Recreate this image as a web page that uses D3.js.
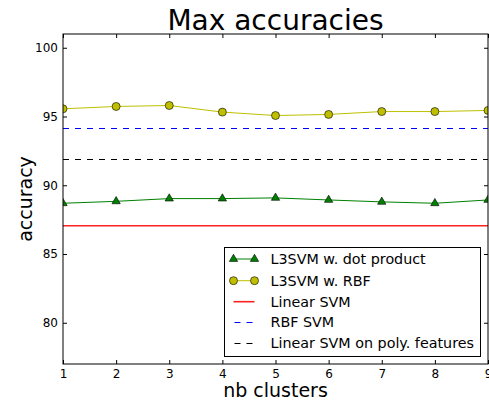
<!DOCTYPE html>
<html><head><meta charset="utf-8">
<script src="https://cdn.jsdelivr.net/npm/d3@7"></script>
<style>body{margin:0;background:#fff}svg{display:block;font-family:"DejaVu Sans",sans-serif}</style>
</head><body><svg id="c" width="489" height="404"></svg>
<script>
const clusters = [1,2,3,4,5,6,7,8,9];
const dotProduct = [88.69,88.83,89.03,89.03,89.08,88.93,88.79,88.69,88.93];
const rbf = [95.56,95.73,95.80,95.32,95.07,95.15,95.36,95.36,95.44];
const linearSVM = 87.06;
const rbfSVM = 94.12;
const polySVM = 91.84;
const yTicks = [80,85,90,95,100];
const legendLabels = ["L3SVM w. dot product","L3SVM w. RBF","Linear SVM","RBF SVM","Linear SVM on poly. features"];

const svg = d3.select("#c");
const L=63, R=488, T=34, B=364;
const x = d3.scaleLinear().domain([1,9]).range([L,R]);
const y = d3.scaleLinear().domain([77,101]).range([B,T]);
const snap = v => Math.round(v - 0.5) + 0.5;

svg.append("defs").append("clipPath").attr("id","clip").append("rect")
  .attr("x",L).attr("y",T).attr("width",R-L).attr("height",B-T);

const g = svg.append("g").attr("clip-path","url(#clip)");
const line = d3.line().x((d,i)=>x(clusters[i])).y(d=>y(d));

g.append("path").datum(dotProduct).attr("d",line).attr("fill","none").attr("stroke","#008000").attr("stroke-width",1);
g.append("path").datum(rbf).attr("d",line).attr("fill","none").attr("stroke","#bfbf00").attr("stroke-width",1);
g.append("line").attr("x1",L).attr("x2",R).attr("y1",y(linearSVM)).attr("y2",y(linearSVM)).attr("stroke","#ff2020").attr("stroke-width",1.6);
g.append("line").attr("x1",L).attr("x2",R).attr("y1",snap(y(rbfSVM))).attr("y2",snap(y(rbfSVM))).attr("stroke","#0000ff").attr("stroke-width",1.2).attr("stroke-dasharray","6,6");
g.append("line").attr("x1",L).attr("x2",R).attr("y1",snap(y(polySVM))).attr("y2",snap(y(polySVM))).attr("stroke","#000").attr("stroke-width",1).attr("stroke-dasharray","6,6");

const tri = d3.symbol().type(d3.symbolTriangle).size(30);
g.selectAll(".tri").data(dotProduct).join("path")
  .attr("transform",(d,i)=>`translate(${x(clusters[i])},${y(d)})`)
  .attr("d",tri).attr("fill","#008000").attr("stroke","#000").attr("stroke-width",0.6);
g.selectAll(".circ").data(rbf).join("circle")
  .attr("cx",(d,i)=>x(clusters[i])).attr("cy",d=>y(d)).attr("r",4)
  .attr("fill","#bfbf00").attr("stroke","#000").attr("stroke-width",0.6);

// axes
function style(sel){sel.select(".domain").remove();sel.selectAll("text").attr("font-size",12).attr("fill","#000").attr("font-family","DejaVu Sans");sel.selectAll("line").attr("stroke","#000");}
svg.append("g").attr("transform",`translate(0,${B})`).call(d3.axisBottom(x).tickValues(clusters).tickFormat(d3.format("d")).tickSize(-4).tickPadding(5)).call(style);
svg.append("g").attr("transform",`translate(0,${T})`).call(d3.axisTop(x).tickValues(clusters).tickFormat("").tickSize(-4)).call(style);
svg.append("g").attr("transform",`translate(${L},0)`).call(d3.axisLeft(y).tickValues(yTicks).tickFormat(d3.format("d")).tickSize(-4).tickPadding(5)).call(style);
svg.append("g").attr("transform",`translate(${R},0)`).call(d3.axisRight(y).tickValues(yTicks).tickFormat("").tickSize(-4)).call(style);
svg.append("rect").attr("x",L).attr("y",T).attr("width",R-L).attr("height",B-T).attr("fill","none").attr("stroke","#000").attr("stroke-width",1);

// titles
svg.append("text").attr("x",(L+R)/2).attr("y",30).attr("text-anchor","middle").attr("font-size",28).text("Max accuracies");
svg.append("text").attr("x",(L+R)/2).attr("y",397).attr("text-anchor","middle").attr("font-size",19).text("nb clusters");
svg.append("text").attr("transform",`translate(32,${(T+B)/2}) rotate(-90)`).attr("text-anchor","middle").attr("font-size",19).text("accuracy");

// legend
const lg = svg.append("g");
lg.append("rect").attr("x",224.5).attr("y",247.5).attr("width",256).attr("height",109).attr("fill","#fff").attr("stroke","#000").attr("stroke-width",1);
const rows = [259,280.7,301.7,322,343.3];
const hx1=233.5, hx2=254.5, tx=270.5;
legendLabels.forEach((lab,i)=>{
  const ry=rows[i];
  const colors=["#008000","#bfbf00","#ff2020","#0000ff","#000"];
  const ly = i>=3 ? snap(ry) : ry;
  const ln = lg.append("line").attr("x1",hx1).attr("x2",hx2).attr("y1",ly).attr("y2",ly).attr("stroke",colors[i]).attr("stroke-width",i===2?1.6:1);
  if(i>=3) ln.attr("stroke-dasharray","6,6").attr("x1",hx1+1);
  if(i===0){[hx1,hx2].forEach(px=>lg.append("path").attr("transform",`translate(${px},${ry})`).attr("d",tri).attr("fill","#008000").attr("stroke","#000").attr("stroke-width",0.6));}
  if(i===1){[hx1,hx2].forEach(px=>lg.append("circle").attr("cx",px).attr("cy",ry).attr("r",4).attr("fill","#bfbf00").attr("stroke","#000").attr("stroke-width",0.6));}
  lg.append("text").attr("x",tx).attr("y",ry).attr("dy","0.36em").attr("font-size",14.3).text(lab);
});
</script></body></html>
